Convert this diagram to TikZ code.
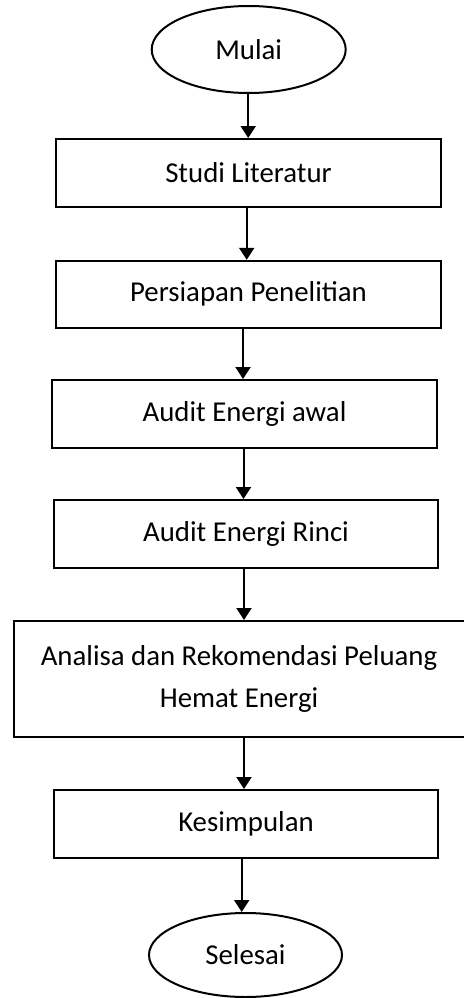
\documentclass[tikz,border=0pt]{standalone}
\usepackage{fontspec}
\setmainfont{Carlito}
\usetikzlibrary{shapes.geometric,arrows.meta}
\begin{document}
\begin{tikzpicture}[x=1pt,y=-1pt,
  txt/.style={font=\fontsize{28.8}{42}\selectfont},
  box/.style={txt,draw,line width=2pt,rectangle,inner sep=0pt,align=center},
  term/.style={txt,draw,line width=2pt,ellipse,inner sep=0pt},
  arr/.style={line width=2pt,-{Triangle[length=12pt,width=15pt]}}]
\useasboundingbox (0,0) rectangle (463,998);
\node[term,minimum width=194pt,minimum height=87pt] (mulai) at (248.7,49.5) {Mulai};
\node[box,minimum width=385pt,minimum height=68pt] (studi) at (248.5,173) {Studi Literatur};
\node[box,minimum width=385pt,minimum height=67pt] (persiapan) at (248.5,294.3) {Persiapan Penelitian};
\node[box,minimum width=385pt,minimum height=68pt] (awal) at (244.5,414) {Audit Energi awal};
\node[box,minimum width=384pt,minimum height=68pt] (rinci) at (246,534) {Audit Energi Rinci};
\node[box,minimum width=451pt,minimum height=116pt] (analisa) at (239,679) {Analisa dan Rekomendasi Peluang\\Hemat Energi};
\node[box,minimum width=384pt,minimum height=68pt] (kesimpulan) at (246,824) {Kesimpulan};
\node[term,minimum width=193pt,minimum height=84pt] (selesai) at (245.5,955) {Selesai};
\draw[arr] ([xshift=-0.5pt]mulai.south) -- ([xshift=-0.5pt]mulai.south |- studi.north);
\draw[arr] ([xshift=-1.8pt]studi.south) -- ([xshift=-1.8pt]studi.south |- persiapan.north);
\draw[arr] ([xshift=-1.5pt]awal.north |- persiapan.south) -- ([xshift=-1.5pt]awal.north);
\draw[arr] ([xshift=-1pt]awal.south) -- ([xshift=-1pt]awal.south |- rinci.north);
\draw[arr] ([xshift=-2pt]rinci.south) -- ([xshift=-2pt]rinci.south |- analisa.north);
\draw[arr] ([xshift=-2pt]kesimpulan.north |- analisa.south) -- ([xshift=-2pt]kesimpulan.north);
\draw[arr] ([xshift=-4.3pt]kesimpulan.south) -- ([xshift=-4.3pt]kesimpulan.south |- selesai.north);
\end{tikzpicture}
\end{document}
